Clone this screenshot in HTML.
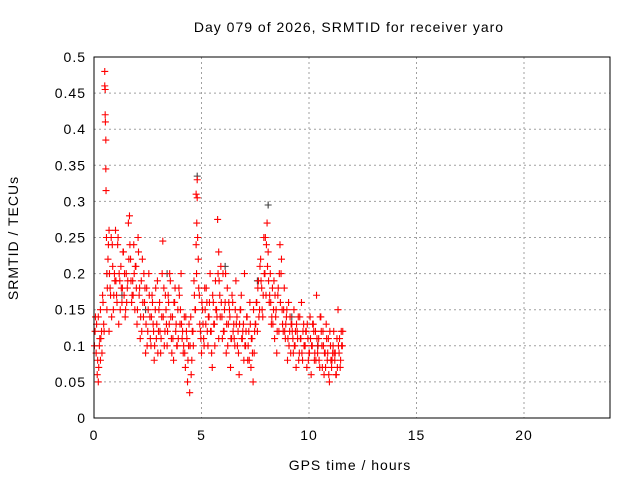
<!DOCTYPE html>
<html><head><meta charset="utf-8"><style>
body{margin:0;background:#fff}
svg text{font-family:"Liberation Sans",sans-serif;font-size:14px;fill:#000;letter-spacing:1px}
</style></head><body>
<svg id="chart" width="640" height="480">
<text x="349" y="32" text-anchor="middle">Day 079 of 2026, SRMTID for receiver yaro</text>
<text x="350" y="470" text-anchor="middle">GPS time / hours</text>
<text x="18" y="238" text-anchor="middle" transform="rotate(-90 18 238)">SRMTID / TECUs</text>
<g id="grid"></g><g id="axes"></g><g id="marks"></g>
<rect x="94" y="57" width="516" height="361" fill="none" stroke="#000" stroke-width="1"/>
</svg>
<script>
const xTicks=[0,5,10,15,20];
const yTicks=[0,0.05,0.1,0.15,0.2,0.25,0.3,0.35,0.4,0.45,0.5];
const yTickLabels=["0","0.05","0.1","0.15","0.2","0.25","0.3","0.35","0.4","0.45","0.5"];
const redHours=[0.05,0.1,0.15,0.2,0.2,0.25,0.3,0.3,0.35,0.4,0.45,0.5,0.5,0.52,0.52,0.53,0.55,0.55,0.56,0.58,0.6,0.6,0.65,0.7,0.7,0.75,0.8,0.85,0.9,0.95,1.0,1.05,1.1,1.15,1.2,1.25,1.3,1.35,1.4,1.45,1.5,1.55,1.6,1.65,1.7,1.75,1.8,1.85,1.9,1.95,2.0,2.05,2.1,2.15,2.2,2.25,2.3,2.35,2.4,2.45,2.5,2.55,2.6,2.65,2.7,2.75,2.8,2.85,2.9,2.95,3.0,3.05,3.1,3.15,3.2,3.25,3.3,3.35,3.4,3.45,3.5,3.55,3.6,3.65,3.7,3.75,3.8,3.85,3.9,3.95,4.0,4.05,4.1,4.15,4.2,4.25,4.3,4.35,4.4,4.45,4.5,4.55,4.6,4.65,4.7,4.75,4.75,4.78,4.8,4.8,4.85,4.9,4.95,5.0,5.05,5.1,5.15,5.2,5.25,5.3,5.35,5.4,5.45,5.5,5.55,5.6,5.65,5.7,5.75,5.8,5.8,5.85,5.9,5.95,6.0,6.05,6.1,6.15,6.2,6.25,6.3,6.35,6.4,6.45,6.5,6.55,6.6,6.65,6.7,6.75,6.8,6.85,6.9,6.95,7.0,7.05,7.1,7.15,7.2,7.25,7.3,7.35,7.4,7.45,7.5,7.55,7.6,7.65,7.7,7.75,7.8,7.85,7.9,7.95,8.0,8.05,8.1,8.15,8.2,8.25,8.3,8.35,8.4,8.45,8.5,8.55,8.6,8.65,8.7,8.75,8.8,8.85,8.9,8.95,9.0,9.05,9.1,9.15,9.2,9.25,9.3,9.35,9.4,9.45,9.5,9.55,9.6,9.65,9.7,9.75,9.8,9.85,9.9,9.95,10.0,10.05,10.1,10.15,10.2,10.25,10.3,10.35,10.4,10.45,10.5,10.55,10.6,10.65,10.7,10.75,10.8,10.85,10.9,10.95,11.0,11.05,11.1,11.15,11.2,11.25,11.3,11.35,11.4,11.45,11.5,11.55];
const redValues=[0.12,0.09,0.06,0.14,0.05,0.1,0.15,0.08,0.12,0.17,0.13,0.48,0.46,0.455,0.42,0.41,0.385,0.345,0.315,0.25,0.2,0.15,0.22,0.26,0.12,0.18,0.25,0.24,0.15,0.2,0.26,0.17,0.24,0.13,0.19,0.21,0.16,0.23,0.17,0.14,0.2,0.18,0.27,0.28,0.22,0.16,0.19,0.24,0.15,0.21,0.13,0.25,0.17,0.11,0.19,0.22,0.14,0.16,0.09,0.18,0.12,0.2,0.14,0.1,0.17,0.13,0.08,0.15,0.11,0.19,0.12,0.16,0.09,0.14,0.245,0.18,0.12,0.15,0.1,0.17,0.13,0.19,0.11,0.14,0.08,0.16,0.12,0.1,0.15,0.18,0.13,0.2,0.11,0.09,0.14,0.07,0.12,0.05,0.1,0.035,0.14,0.08,0.12,0.19,0.15,0.24,0.31,0.27,0.33,0.305,0.22,0.17,0.12,0.09,0.15,0.11,0.18,0.13,0.16,0.1,0.14,0.2,0.12,0.07,0.16,0.13,0.19,0.15,0.275,0.23,0.11,0.17,0.21,0.14,0.2,0.12,0.16,0.09,0.18,0.13,0.15,0.07,0.11,0.16,0.13,0.1,0.19,0.14,0.12,0.06,0.15,0.17,0.11,0.13,0.2,0.1,0.14,0.08,0.12,0.16,0.07,0.11,0.05,0.09,0.13,0.16,0.12,0.19,0.15,0.22,0.18,0.14,0.25,0.2,0.17,0.27,0.23,0.16,0.2,0.13,0.18,0.15,0.11,0.14,0.09,0.17,0.12,0.24,0.2,0.15,0.12,0.18,0.11,0.14,0.08,0.16,0.12,0.09,0.13,0.11,0.15,0.1,0.07,0.12,0.14,0.09,0.11,0.16,0.08,0.13,0.1,0.12,0.07,0.11,0.09,0.14,0.06,0.1,0.13,0.08,0.12,0.17,0.09,0.11,0.07,0.14,0.1,0.12,0.06,0.09,0.13,0.08,0.11,0.05,0.1,0.07,0.09,0.12,0.08,0.06,0.11,0.15,0.09,0.07,0.12,0.1,0.08,0.033];
const redHoursB=[0.02,0.12,0.22,0.32,0.42,0.62,0.72,0.82,0.92,1.02,1.12,1.22,1.32,1.42,1.52,1.62,1.72,1.82,1.92,2.02,2.12,2.22,2.32,2.42,2.52,2.62,2.72,2.82,2.92,3.02,3.12,3.22,3.32,3.42,3.52,3.62,3.72,3.82,3.92,4.02,4.12,4.22,4.32,4.42,4.52,4.62,4.72,4.82,4.92,5.02,5.12,5.22,5.32,5.42,5.52,5.62,5.72,5.82,5.92,6.02,6.12,6.22,6.32,6.42,6.52,6.62,6.72,6.82,6.92,7.02,7.12,7.22,7.32,7.42,7.52,7.62,7.72,7.82,7.92,8.02,8.12,8.22,8.32,8.42,8.52,8.62,8.72,8.82,8.92,9.02,9.12,9.22,9.32,9.42,9.52,9.62,9.72,9.82,9.92,10.02,10.12,10.22,10.32,10.42,10.52,10.62,10.72,10.82,10.92,11.02,11.12,11.22,11.32,11.42,11.52];
const redValuesB=[0.1,0.13,0.07,0.11,0.16,0.18,0.2,0.14,0.17,0.19,0.25,0.15,0.18,0.2,0.16,0.22,0.19,0.17,0.21,0.15,0.18,0.12,0.2,0.13,0.15,0.11,0.16,0.1,0.13,0.15,0.11,0.14,0.17,0.12,0.2,0.09,0.16,0.13,0.11,0.15,0.12,0.09,0.11,0.13,0.06,0.1,0.15,0.25,0.13,0.16,0.1,0.18,0.14,0.12,0.17,0.1,0.14,0.19,0.16,0.12,0.2,0.1,0.14,0.17,0.11,0.13,0.09,0.15,0.12,0.1,0.14,0.08,0.11,0.15,0.13,0.18,0.21,0.15,0.2,0.24,0.19,0.16,0.13,0.17,0.12,0.2,0.22,0.15,0.13,0.11,0.14,0.12,0.1,0.13,0.08,0.11,0.12,0.1,0.13,0.09,0.1,0.12,0.08,0.1,0.14,0.07,0.09,0.11,0.06,0.08,0.1,0.09,0.07,0.11,0.1];
const redValuesC=[0.14,0.08,0.11,0.09,0.12,0.24,0.17,0.21,0.19,0.16,0.2,0.18,0.23,0.15,0.19,0.24,0.17,0.2,0.18,0.23,0.14,0.16,0.18,0.1,0.17,0.14,0.12,0.18,0.09,0.12,0.2,0.1,0.13,0.16,0.14,0.11,0.18,0.1,0.17,0.13,0.1,0.14,0.08,0.1,0.12,0.17,0.2,0.18,0.11,0.13,0.15,0.12,0.16,0.09,0.13,0.15,0.2,0.14,0.11,0.15,0.13,0.16,0.11,0.12,0.15,0.1,0.13,0.11,0.08,0.12,0.1,0.13,0.09,0.12,0.16,0.14,0.19,0.17,0.25,0.21,0.17,0.14,0.19,0.15,0.18,0.16,0.13,0.12,0.15,0.1,0.13,0.09,0.12,0.11,0.14,0.09,0.1,0.12,0.08,0.11,0.13,0.09,0.11,0.08,0.12,0.1,0.07,0.09,0.12,0.08,0.09,0.06,0.1,0.08,0.12];
const darkHours=[0.6,1.3,2.4,3.4,4.8,6.1,7.6,8.1,9.2,10.4];
const darkValues=[0.2,0.17,0.15,0.2,0.335,0.21,0.19,0.295,0.14,0.1];
const X0=94,X1=610,Y0=418,Y1=57,XMAX=24,YMAX=0.5;
const sx=v=>X0+(X1-X0)*v/XMAX, sy=v=>Y0-(Y0-Y1)*v/YMAX;
const NS="http://www.w3.org/2000/svg";
function mk(tag,attrs,parent){const e=document.createElementNS(NS,tag);for(const k in attrs)e.setAttribute(k,attrs[k]);document.getElementById(parent).appendChild(e);return e;}
xTicks.forEach(t=>{
  const x=sx(t);
  if(t>0){const g=mk('line',{x1:x,x2:x,y1:Y1,y2:Y0,stroke:'#a0a0a0','stroke-dasharray':'2,3'},'grid');
  
  }
  const l=mk('text',{x:x,y:Y0+22,'text-anchor':'middle'},'axes');l.textContent=String(t);
  
  
});
yTicks.forEach((t,i)=>{
  const y=sy(t);
  if(t>0&&t<0.5){const g=mk('line',{x1:X0,x2:X1,y1:y,y2:y,stroke:'#a0a0a0','stroke-dasharray':'2,3'},'grid');
  
  }
  const l=mk('text',{x:X0-8,y:y+5,'text-anchor':'end'},'axes');l.textContent=yTickLabels[i];
  
  
});
function plus(x,y,color){
  return mk('path',{d:`M${x-3.5},${y}h7M${x},${y-3.5}v7`,stroke:color,'stroke-width':1.1,fill:'none'},'marks');
}
darkHours.forEach((h,i)=>{const p=plus(sx(h),sy(darkValues[i]),'#404040');
  
  });
redHours.forEach((h,i)=>{const p=plus(sx(h),sy(redValues[i]),'#ff0000');
  
  });
redHoursB.forEach((h,i)=>{const p=plus(sx(h),sy(redValuesB[i]),'#ff0000');
  
  });
redHoursB.forEach((h,i)=>{const p=plus(sx(h+0.05),sy(redValuesC[i]),'#ff0000');
  
  });
</script>
</body></html>
